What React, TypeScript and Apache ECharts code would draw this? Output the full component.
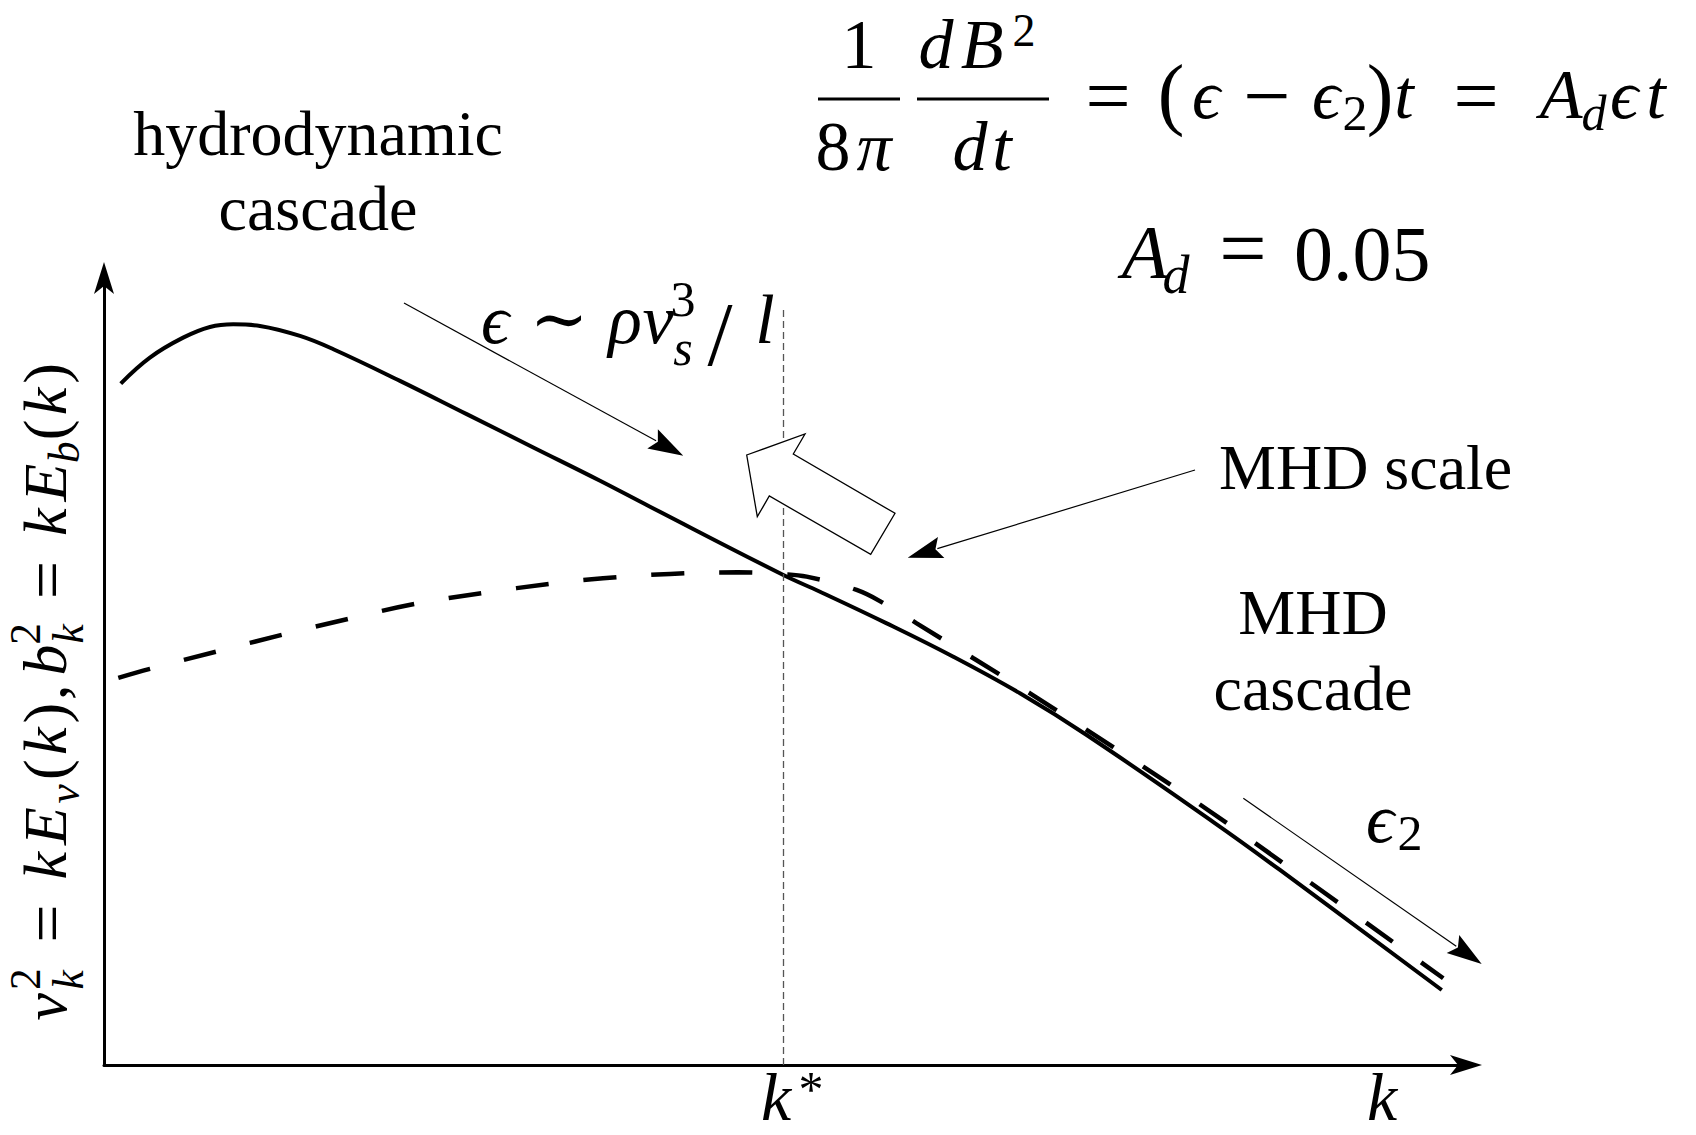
import React, { useEffect, useRef } from "react";
import * as echarts from "echarts";

// ---- data (schematic spectra; axes 0..100) ----
const solidK = [1.23, 3.37, 5.81, 7.78, 9.49, 11.45, 14.39, 16.84, 21.73, 26.63, 31.52, 36.42, 40.09, 49.88, 52.57, 57.47, 62.36, 67.25, 72.15, 81.45, 86.34, 98.22];
const solidE = [86.59, 89.89, 92.42, 93.78, 94.12, 93.91, 92.64, 90.95, 86.93, 82.7, 78.47, 74.24, 70.94, 62.26, 60.14, 56.12, 51.88, 47.23, 41.93, 30.87, 24.78, 9.53];
const dashedK = [1.05, 3.37, 8.27, 13.16, 17.94, 22.83, 27.84, 32.75, 36.64, 41.56, 46.55, 49.85, 51.59, 55.26, 57.47, 59.67, 63.83, 67.99, 72.15, 76.3, 80.34, 84.38, 98.33];
const dashedE = [49.2, 50.34, 52.54, 54.7, 56.69, 58.59, 59.99, 61.13, 61.84, 62.4, 62.6, 62.37, 62.05, 60.36, 58.45, 56.12, 51.68, 47.23, 42.57, 37.9, 33.25, 28.37, 11.02];
const kStar = 49.9;
const kStarTop = 96;

const SERIF = "'Liberation Serif', 'DejaVu Serif', serif";

function buildGraphic() {
  const g: any[] = [];
  const T = (text: string, x: number, bl: number, size: number, italic = false, align = "center") => {
    g.push({
      type: "text", x, y: bl - 0.3375 * size, z: 100,
      style: {
        text, font: `${italic ? "italic " : ""}${size}px ${SERIF}`, fill: "#000",
        align, verticalAlign: "middle", lineHeight: Math.round(size * 0.7),
      },
    });
  };
  const L = (x1: number, y1: number, x2: number, y2: number, w: number) => {
    g.push({ type: "line", z: 100, shape: { x1, y1, x2, y2 }, style: { stroke: "#000", lineWidth: w } });
  };
  const arrow = (x1: number, y1: number, x2: number, y2: number, len = 35, half = 11) => {
    const dx = x2 - x1, dy = y2 - y1, D = Math.hypot(dx, dy), ux = dx / D, uy = dy / D;
    const bx = x2 - ux * len, by = y2 - uy * len;
    L(x1, y1, bx + ux * 4, by + uy * 4, 1.2);
    g.push({
      type: "polygon", z: 100,
      shape: { points: [[x2, y2], [bx - uy * half, by + ux * half], [bx + ux * 6, by + uy * 6], [bx + uy * half, by - ux * half]] },
      style: { fill: "#000" },
    });
  };

  // Times labels
  T("hydrodynamic", 318, 155, 64);
  T("cascade", 318, 230, 64);
  T("MHD scale", 1219, 489, 64, false, "left");
  T("MHD", 1313, 634, 64);
  T("cascade", 1313, 710, 64);

  // top formula
  T("1", 859, 68, 70);
  L(818, 99, 900, 99, 3);
  T("8", 833, 170, 70);
  T("π", 874, 170, 70, true);
  T("d", 936, 68, 70, true);
  T("B", 982, 68, 70, true);
  T("2", 1024, 46, 46);
  L(917, 99, 1049, 99, 3);
  T("d", 970, 170, 70, true);
  T("t", 1002, 170, 70, true);
  T("=", 1108, 123, 80);
  T("(", 1171, 120, 80);
  T("ϵ", 1206, 118, 70, true);
  T("−", 1267, 124, 84);
  T("ϵ", 1326, 118, 70, true);
  T("2", 1355, 130, 50);
  T(")", 1380, 120, 80);
  T("t", 1404, 118, 70, true);
  T("=", 1476, 123, 80);
  T("A", 1561, 118, 70, true);
  T("d", 1594, 130, 50, true);
  T("ϵ", 1624, 118, 70, true);
  T("t", 1656, 118, 70, true);

  // A_d = 0.05
  T("A", 1145, 278, 76, true);
  T("d", 1176, 293, 54, true);
  T("=", 1243, 277, 84);
  T("0.05", 1294, 280, 78, false, "left");

  // epsilon ~ rho v_s^3 / l
  T("ϵ", 495, 343, 70, true);
  T("∼", 559, 343, 70);
  T("ρ", 625, 343, 70, true);
  T("v", 658, 343, 70, true);
  T("3", 683, 316, 50);
  T("s", 683, 365, 50, true);
  T("/", 720, 365, 90);
  T("l", 765, 343, 70, true);

  // epsilon_2
  T("ϵ", 1380, 842, 70, true);
  T("2", 1410, 850, 50);

  // axis labels
  T("k", 776, 1120, 68, true);
  T("*", 811, 1106, 50);
  T("k", 1382, 1120, 68, true);

  // rotated y-axis label
  const YS = 62;
  const pieces: [string, boolean, number, number, number][] = [
    ["v", true, 1, 0.245, 0], ["2", false, 0.7, 0.69, -0.42], ["k", true, 0.7, 0.68, 0.27],
    ["=", false, 1.1, 1.59, 0.06], ["k", true, 1, 2.52, 0], ["E", true, 1, 3.16, 0], ["v", true, 0.7, 3.68, 0.2],
    ["(", false, 1, 4.07, 0], ["k", true, 1, 4.53, 0], [")", false, 1, 4.98, 0], [",", false, 1, 5.32, 0],
    ["b", true, 1, 5.84, 0], ["2", false, 0.7, 6.26, -0.42], ["k", true, 0.7, 6.26, 0.27],
    ["=", false, 1.1, 7.13, 0.06], ["k", true, 1, 8.06, 0], ["E", true, 1, 8.7, 0], ["b", true, 0.7, 9.19, 0.2],
    ["(", false, 1, 9.55, 0], ["k", true, 1, 10.01, 0], [")", false, 1, 10.46, 0],
  ];
  g.push({
    type: "group", x: 66, y: 1022, rotation: Math.PI / 2, z: 100,
    children: pieces.map(([text, it, sc, cx, dy]) => {
      const s = YS * sc;
      return {
        type: "text", x: cx * YS, y: dy * YS - 0.3375 * s, z: 100,
        style: {
          text, font: `${it ? "italic " : ""}${s}px ${SERIF}`, fill: "#000",
          align: "center", verticalAlign: "middle", lineHeight: Math.round(s * 0.7),
        },
      };
    }),
  });

  // annotation arrows
  arrow(404, 303, 683.3, 455.7);
  arrow(1195, 470, 907.7, 557.7);
  arrow(1243.3, 798.3, 1481.7, 964);

  // big hollow arrow
  g.push({
    type: "polygon", z: 100,
    shape: { points: [[746.7, 455], [805, 434], [793.3, 454], [895, 513.3], [870.7, 554.3], [769.3, 496], [757.3, 516.7]] },
    style: { fill: "#fff", stroke: "#000", lineWidth: 1.3 },
  });
  return g;
}

export default function App() {
  const ref = useRef<HTMLDivElement>(null);
  useEffect(() => {
    document.body.style.margin = "0";
    const chart = echarts.init(ref.current!, null, { renderer: "svg" });
    const axisCommon = {
      type: "value", min: 0, max: 100,
      axisLine: {
        show: true, symbol: ["none", "arrow"], symbolSize: [15, 32], symbolOffset: [0, 16],
        lineStyle: { color: "#000", width: 3 },
      },
      axisTick: { show: false }, axisLabel: { show: false }, splitLine: { show: false },
    };
    chart.setOption({
      animation: false,
      backgroundColor: "#fff",
      grid: { left: 104, top: 278, width: 1362, height: 787, containLabel: false },
      xAxis: axisCommon,
      yAxis: axisCommon,
      series: [
        {
          type: "line", symbol: "none", smooth: 0.4, z: 3,
          data: solidK.map((k, i) => [k, solidE[i]]),
          lineStyle: { color: "#000", width: 4 },
          markLine: {
            silent: true, symbol: ["none", "none"], label: { show: false }, animation: false,
            lineStyle: { color: "#555", width: 1.3, type: [7, 4] },
            data: [[{ coord: [kStar, 0] }, { coord: [kStar, kStarTop] }]],
          },
        },
        {
          type: "line", symbol: "none", smooth: 0.4, z: 3,
          data: dashedK.map((k, i) => [k, dashedE[i]]),
          lineStyle: { color: "#000", width: 4.5, type: [33, 35] },
        },
      ],
      graphic: buildGraphic(),
    });
    return () => chart.dispose();
  }, []);
  return <div ref={ref} style={{ width: 1696, height: 1135 }} />;
}
